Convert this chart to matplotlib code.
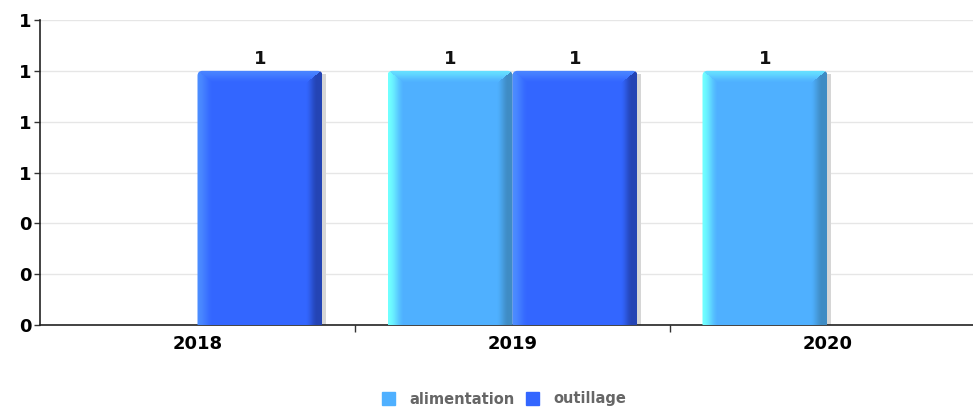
import matplotlib
matplotlib.use('Agg')
import matplotlib.pyplot as plt
import numpy as np
from matplotlib.colors import to_rgb
from matplotlib.patches import Patch, Rectangle, FancyBboxPatch

plt.rcParams['font.family'] = ['DejaVu Sans']

years = ['2018', '2019', '2020']
series_names = ['alimentation', 'outillage']
alimentation = [0, 1, 1]
outillage = [1, 1, 0]
yticks = [0, 0.2, 0.4, 0.6, 0.8, 1.0, 1.2]

# base, left edge, right edge, top bevel
palette = {
    'alimentation': ('#4FB0FF', '#70FFFF', '#3F8CC4', '#66E0FF'),
    'outillage': ('#3366FF', '#4C8CFF', '#2444B4', '#4A84FF'),
}

W, H = 973, 408
fig = plt.figure(figsize=(W / 100, H / 100), dpi=100)
ax = fig.add_axes([40 / W, 83 / H, 933 / W, 305 / H])

bw = 125 / 315
px_x = 315.0  # pixels per category unit
px_y = 305 / 1.2


def smooth(t):
    t = np.clip(t, 0, 1)
    return t * t * (3 - 2 * t)


def bevel_image(nx, ny, cols):
    base, left, right, top = [np.array(to_rgb(c)) for c in cols]
    img = np.zeros((ny, nx, 3))
    bl, br, bt = 16.0, 16.0, 13.0
    for j in range(ny):
        for i in range(nx):
            dl = i
            dr = nx - 1 - i
            dt = j
            c = base
            if dl < bl and dl / bl <= dt / bt:
                t = smooth(dl / bl)
                c = left * (1 - t) + base * t
            elif dr < br and dr / br <= dt / bt:
                t = smooth((dr - 4) / (br - 4))
                c = right * (1 - t) + base * t
            elif dt < bt:
                t = smooth(dt / bt)
                c = top * (1 - t) + base * t
            img[j, i] = c
    return img


for si, (name, vals) in enumerate(zip(series_names, [alimentation, outillage])):
    off = (-0.5 + si) * bw
    xs = np.arange(len(years)) + off
    bars = ax.bar(xs, vals, width=bw, color=palette[name][0], zorder=3, linewidth=0)
    for b, v in zip(bars, vals):
        b.set_visible(False)
        if v <= 0:
            continue
        x0 = b.get_x()
        # shadow
        ax.add_patch(Rectangle((x0 + 4 / px_x, 0), bw, v - 3 / px_y,
                               color='#d6d6d6', zorder=2, linewidth=0))
        nx = int(round(bw * px_x))
        ny = int(round(v * px_y))
        img = bevel_image(nx, ny, palette[name])
        im = ax.imshow(img, extent=(x0, x0 + bw, 0, v), aspect='auto',
                       zorder=4, interpolation='nearest')
        clip = FancyBboxPatch((x0, -0.1), bw, v + 0.1,
                              boxstyle=f'round,pad=0,rounding_size={5 / px_x}',
                              mutation_aspect=px_x / px_y,
                              transform=ax.transData)
        im.set_clip_path(clip)
        ax.text(x0 + bw / 2, v + 0.012, f'{v:.0f}', ha='center', va='bottom',
                fontsize=13, fontweight='bold', color='#111111', zorder=5)

ax.set_xlim(-0.5, 2.5 - 12 / 315)
ax.set_ylim(0, 1.2)

ax.set_yticks(yticks)
ax.set_yticklabels([f'{t:.0f}' for t in yticks], fontsize=13, fontweight='bold')
ax.yaxis.grid(True, color='#e6e6e6', linewidth=1, zorder=0)
ax.set_axisbelow(True)

ax.set_xticks(np.arange(len(years)))
ax.set_xticklabels(years, fontsize=13, fontweight='bold')
ax.tick_params(axis='x', length=0, pad=7)
ax.set_xticks([0.5, 1.5], minor=True)
ax.tick_params(axis='x', which='minor', length=5, width=1, direction='out', color='#333333')
ax.tick_params(axis='y', length=4, width=1, direction='out', pad=2, color='#333333')

for s in ['top', 'right']:
    ax.spines[s].set_visible(False)
for s in ['left', 'bottom']:
    ax.spines[s].set_color('#222222')
    ax.spines[s].set_linewidth(1.2)

handles = [Patch(color=palette[n][0]) for n in series_names]
leg = fig.legend(handles, series_names, loc='center', bbox_to_anchor=(504 / W, 9 / H),
                 ncol=2, frameon=False, handlelength=0.9, handleheight=0.9,
                 handletextpad=1.0, columnspacing=0.75,
                 prop={'size': 10.5, 'weight': 'bold'})
for t in leg.get_texts():
    t.set_color('#666666')

fig.savefig('out.png', dpi=100)
